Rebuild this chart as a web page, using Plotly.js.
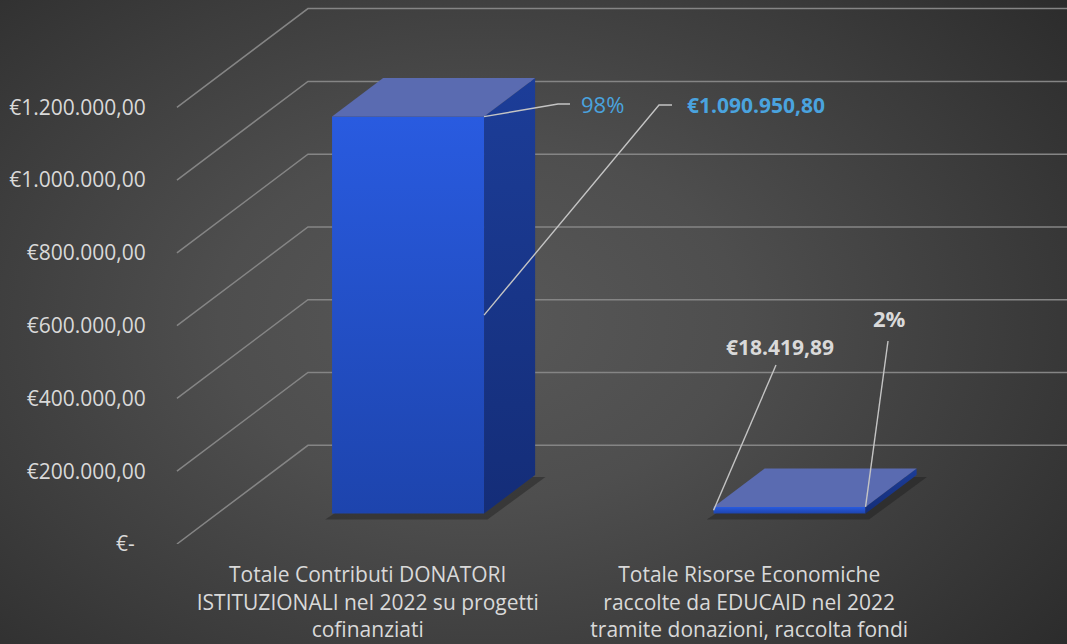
<!DOCTYPE html>
<html>
<head>
<meta charset="utf-8">
<script src="https://cdn.plot.ly/plotly-3.0.1.min.js"></script>
<style>
  html, body { margin: 0; padding: 0; background: #2e2e2e; }
  #chart {
    width: 1067px; height: 644px;
    background: radial-gradient(ellipse 70% 80% at 45% 50%, #585858 0%, #4e4e4e 35%, #3c3c3c 70%, #2c2c2c 100%);
  }
</style>
</head>
<body>
<div id="chart"></div>
<script>
// ---- data ----
const categories = [
  "Totale Contributi DONATORI<br>ISTITUZIONALI nel 2022 su progetti<br>cofinanziati",
  "Totale Risorse Economiche<br>raccolte da EDUCAID nel 2022<br>tramite donazioni, raccolta fondi"
];
const values = [1090950.80, 18419.89];
const valueLabels = ["€1.090.950,80", "€18.419,89"];
const percentLabels = ["98%", "2%"];
const tickVals = [0, 200000, 400000, 600000, 800000, 1000000, 1200000];
const tickText = ["€-\u00a0\u00a0", "€200.000,00", "€400.000,00", "€600.000,00", "€800.000,00", "€1.000.000,00", "€1.200.000,00"];

// ---- 3D projection settings (oblique) ----
const PX_PER_CAT = 381.5;          // px per category unit
const K = 3.639e-4;                // px per euro
const DX = 131 / PX_PER_CAT;       // depth offset (category units) for full floor depth
const DY = 98.7 / K;               // depth offset (euro units) for full floor depth
const D_FRONT = 0.308, D_BACK = 0.698;
const HW = 0.1992;                 // half bar width
const X_RANGE = [-0.5025, 1.833];
const Y_RANGE = [0, 544 / K];
const px2x = p => (p - 367.7) / PX_PER_CAT;
const py2y = p => (544 - p) / K;

const traces = [];

// perspective grid: side-wall diagonals + back-wall horizontals
const gx = [], gy = [];
tickVals.forEach(v => {
  gx.push(-0.5, -0.5 + DX, X_RANGE[1] + 0.2, null);
  gy.push(v, v + DY, v + DY, null);
});
traces.push({type: 'scatter', mode: 'lines', x: gx, y: gy,
  line: {color: '#858585', width: 1.5}, hoverinfo: 'skip', showlegend: false});

function poly(xs, ys, extra) {
  return Object.assign({type: 'scatter', mode: 'lines', x: xs.concat([xs[0]]), y: ys.concat([ys[0]]),
    fill: 'toself', line: {width: 0}, hoverinfo: 'skip', showlegend: false}, extra);
}

const geo = values.map((v, i) => {
  const fx0 = i - HW + D_FRONT * DX, fx1 = i + HW + D_FRONT * DX;
  const bx0 = i - HW + D_BACK * DX, bx1 = i + HW + D_BACK * DX;
  const fy0 = D_FRONT * DY, fy1 = v + D_FRONT * DY;
  const by0 = D_BACK * DY, by1 = v + D_BACK * DY;
  return {fx0, fx1, bx0, bx1, fy0, fy1, by0, by1};
});

// soft shadows
geo.forEach(g => {
  const s = 0.018, sy = 6 / K;
  traces.push(poly([g.fx0 - s, g.fx1 + s * 0.5, g.bx1 + s * 1.5, g.bx0 + s],
                   [g.fy0 - sy, g.fy0 - sy, g.by0 - sy * 0.3, g.by0 - sy * 0.3],
                   {fillcolor: 'rgba(25,25,25,0.4)'}));
});

// bar faces
geo.forEach(g => {
  traces.push(poly([g.fx0, g.fx1, g.fx1, g.fx0], [g.fy0, g.fy0, g.fy1, g.fy1],
    {fillcolor: '#2452cc', fillgradient: {type: 'vertical', colorscale: [[0, '#1d44ad'], [1, '#295be0']]}}));
  traces.push(poly([g.fx1, g.bx1, g.bx1, g.fx1], [g.fy0, g.by0, g.by1, g.fy1],
    {fillcolor: '#1a3890', fillgradient: {type: 'vertical', colorscale: [[0, '#142d78'], [1, '#1c3d98']]}}));
  traces.push(poly([g.fx0, g.fx1, g.bx1, g.bx0], [g.fy1, g.fy1, g.by1, g.by1],
    {fillcolor: '#5a6bb1'}));
});

// leader lines
const g0 = geo[0], g1 = geo[1];
const leaders = [
  {x: [g0.fx1, px2x(558), px2x(570)], y: [g0.fy1, py2y(104), py2y(104)]},
  {x: [g0.fx1, px2x(659), px2x(672)], y: [(g0.fy0 + g0.fy1) / 2, py2y(105), py2y(105)]},
  {x: [g1.fx0, px2x(776)], y: [(g1.fy0 + g1.fy1) / 2, py2y(365)]},
  {x: [g1.fx1, px2x(888)], y: [g1.fy1, py2y(341)]}
];
leaders.forEach(l => traces.push({type: 'scatter', mode: 'lines', x: l.x, y: l.y,
  line: {color: '#c4c4c4', width: 1.4}, hoverinfo: 'skip', showlegend: false}));

const blue = '#4aa3df', light = '#d9d9d9';
const annotations = [
  {x: px2x(579), y: py2y(104), xanchor: 'left', yanchor: 'middle', text: percentLabels[0],
   font: {family: 'Open Sans', size: 22, color: blue}},
  {x: px2x(685), y: py2y(105), xanchor: 'left', yanchor: 'middle', text: '<b>' + valueLabels[0] + '</b>',
   font: {family: 'Open Sans', size: 21, color: blue}},
  {x: px2x(780), y: py2y(347), xanchor: 'center', yanchor: 'middle', text: '<b>' + valueLabels[1] + '</b>',
   font: {family: 'Open Sans', size: 21, color: light}},
  {x: px2x(889), y: py2y(318), xanchor: 'center', yanchor: 'middle', text: '<b>' + percentLabels[1] + '</b>',
   font: {family: 'Open Sans', size: 22, color: light}}
].map(a => Object.assign({xref: 'x', yref: 'y', showarrow: false}, a));

const layout = {
  width: 1067, height: 644,
  margin: {l: 176, r: 0, t: 0, b: 100, pad: 0},
  paper_bgcolor: 'rgba(0,0,0,0)', plot_bgcolor: 'rgba(0,0,0,0)',
  showlegend: false,
  xaxis: {range: X_RANGE, tickvals: [0, 1], ticktext: categories, showgrid: false, zeroline: false,
    showline: false, ticks: 'outside', ticklen: 12, tickcolor: 'rgba(0,0,0,0)',
    tickfont: {family: 'Open Sans', size: 21, color: light}, fixedrange: true},
  yaxis: {range: Y_RANGE, tickvals: tickVals, ticktext: tickText, showgrid: false, zeroline: false,
    showline: false, ticks: 'outside', ticklen: 25, tickcolor: 'rgba(0,0,0,0)',
    tickfont: {family: 'Open Sans', size: 21, color: light}, fixedrange: true},
  annotations: annotations
};

Plotly.newPlot('chart', traces, layout, {displayModeBar: false, staticPlot: true});
</script>
</body>
</html>
